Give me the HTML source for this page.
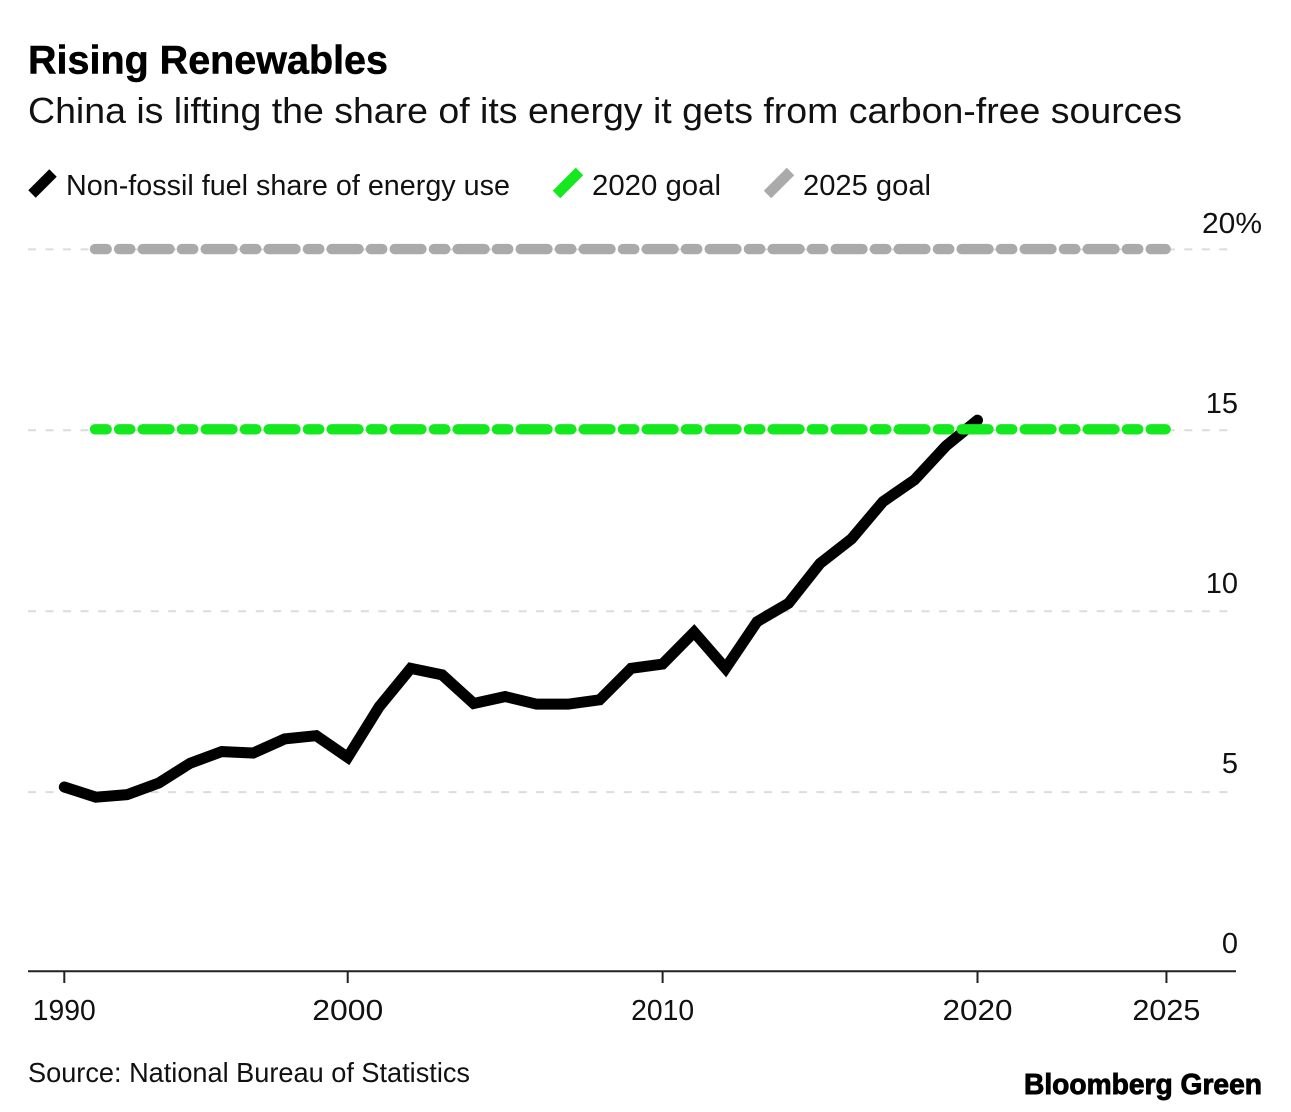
<!DOCTYPE html>
<html lang="en">
<head>
<meta charset="utf-8">
<title>Rising Renewables</title>
<style>
html,body{margin:0;padding:0;background:#fff;width:1291px;height:1112px;overflow:hidden}
svg{display:block}
text{font-family:"Liberation Sans",sans-serif;fill:#111}
</style>
</head>
<body>
<svg id="chart" xmlns="http://www.w3.org/2000/svg" width="1291" height="1112" viewBox="0 0 1291 1112">
  <text x="28" y="73.5" font-size="40" font-weight="700" textLength="360" lengthAdjust="spacingAndGlyphs" stroke="#000" stroke-width="0.5" style="fill:#000">Rising Renewables</text>
  <text x="28" y="123" font-size="36" textLength="1154" lengthAdjust="spacingAndGlyphs">China is lifting the share of its energy it gets from carbon-free sources</text>

  <g>
    <line x1="32" y1="194" x2="53" y2="173" stroke="#000" stroke-width="10.5"/>
    <text x="66" y="195" font-size="29" textLength="444" lengthAdjust="spacingAndGlyphs">Non-fossil fuel share of energy use</text>
    <line x1="556.5" y1="194.5" x2="579.5" y2="171.5" stroke="#14e81e" stroke-width="10.5"/>
    <text x="592" y="195" font-size="29" textLength="129" lengthAdjust="spacingAndGlyphs">2020 goal</text>
    <line x1="767.5" y1="194.5" x2="790.5" y2="171.5" stroke="#aaaaaa" stroke-width="10.5"/>
    <text x="803" y="195" font-size="29" textLength="128" lengthAdjust="spacingAndGlyphs">2025 goal</text>
  </g>

  <g id="grid"></g>
  <g id="yLabels"></g>
  <g id="xAxis"></g>
  <g id="series"></g>

  <text x="28" y="1082" font-size="27.5" textLength="442" lengthAdjust="spacingAndGlyphs">Source: National Bureau of Statistics</text>
  <text x="1024" y="1094" font-size="29" font-weight="700" textLength="238" lengthAdjust="spacingAndGlyphs" stroke="#000" stroke-width="0.9" style="fill:#000">Bloomberg Green</text>
</svg>
<script>
var categories = [1991,1992,1993,1994,1995,1996,1997,1998,1999,2000,2001,2002,2003,2004,2005,2006,2007,2008,2009,2010,2011,2012,2013,2014,2015,2016,2017,2018,2019,2020,2021,2022,2023,2024,2025,2026];
var nonFossilShare = [5.14,4.86,4.93,5.25,5.8,6.12,6.08,6.47,6.56,5.96,7.36,8.42,8.24,7.45,7.64,7.43,7.43,7.55,8.42,8.54,9.42,8.42,9.71,10.22,11.32,12.0,13.03,13.63,14.57,15.28];
var goal2020 = [15,15];
var goal2025 = [20,20];
var goalCategories = [1992,2026];
var yTicks = [0,5,10,15,20];
var yTickLabels = ["0","5","10","15","20%"];
var xTicks = [1991,2000,2010,2020,2026];
var xTickLabels = ["1990","2000","2010","2020","2025"];

var SVGNS = "http://www.w3.org/2000/svg";
function xScale(year){ return 64.3 + (year - categories[0]) * 31.49; }
function yScale(v){ return 973 - v * 36.18; }
function yLabelBaseline(v){ return 953 + (0 - v) * 36; }
function xLabelWidth(label){ return label === "2000" ? 71 : (label === "2020" ? 70 : (label === "2025" ? 68 : 63)); }
function make(tag, parent){
  var el = document.createElementNS(SVGNS, tag);
  parent.appendChild(el);
  return el;
}

var gridG = document.getElementById("grid");
yTicks.forEach(function(t, i){
  if (t === 0) return;
  var ln = make("line", gridG);
  
  
  ln.setAttribute("x1", 28); ln.setAttribute("x2", 1228);
  ln.setAttribute("y1", yScale(t)); ln.setAttribute("y2", yScale(t));
  ln.setAttribute("stroke", "#dcdcdc");
  ln.setAttribute("stroke-width", "2");
  ln.setAttribute("stroke-dasharray", "8 9.52");
});

var yG = document.getElementById("yLabels");
yTicks.forEach(function(t, i){
  var tx = make("text", yG);
  
  
  tx.setAttribute("x", t === 20 ? 1202 : 1238);
  tx.setAttribute("y", yLabelBaseline(t));
  tx.setAttribute("font-size", "29");
  if (t === 20) {
    tx.setAttribute("textLength", "60");
    tx.setAttribute("lengthAdjust", "spacingAndGlyphs");
  } else {
    tx.setAttribute("text-anchor", "end");
  }
  tx.textContent = yTickLabels[i];
});

var xG = document.getElementById("xAxis");
var axisLine = make("line", xG);


axisLine.setAttribute("x1", 28); axisLine.setAttribute("x2", 1236);
axisLine.setAttribute("y1", yScale(0) - 1.7); axisLine.setAttribute("y2", yScale(0) - 1.7);
axisLine.setAttribute("stroke", "#222"); axisLine.setAttribute("stroke-width", "2");
xTicks.forEach(function(t, i){
  var tk = make("line", xG);
  
  
  tk.setAttribute("x1", xScale(t)); tk.setAttribute("x2", xScale(t));
  tk.setAttribute("y1", yScale(0) - 1.7); tk.setAttribute("y2", yScale(0) + 10);
  tk.setAttribute("stroke", "#222"); tk.setAttribute("stroke-width", "2");
  var tx = make("text", xG);
  var w = xLabelWidth(xTickLabels[i]);
  
  
  tx.setAttribute("x", xScale(t) - w / 2); tx.setAttribute("y", 1020);
  tx.setAttribute("font-size", "28.5");
  tx.setAttribute("textLength", w);
  tx.setAttribute("lengthAdjust", "spacingAndGlyphs");
  tx.textContent = xTickLabels[i];
});

var seriesG = document.getElementById("series");
function goalDash(){
  var d = "11.7 12.4 11.2 12.4";
  for (var i = 0; i < 24; i++) d += " 26.8 12.4 11.4 12.4";
  return d + " 2000 0";
}
function pointsOf(xs, ys){
  return xs.map(function(c, i){ return xScale(c).toFixed(2) + "," + yScale(ys[i]).toFixed(2); }).join(" ");
}

var goalGray = make("polyline", seriesG);


goalGray.setAttribute("points", pointsOf(goalCategories, goal2025));
goalGray.setAttribute("transform", "translate(-0.8,-0.3)");
goalGray.setAttribute("fill", "none");
goalGray.setAttribute("stroke", "#aaaaaa");
goalGray.setAttribute("stroke-width", "10.4");
goalGray.setAttribute("stroke-linecap", "round");
goalGray.setAttribute("stroke-dasharray", goalDash());

var shareLine = make("polyline", seriesG);


shareLine.setAttribute("points", pointsOf(categories.slice(0, nonFossilShare.length), nonFossilShare));
shareLine.setAttribute("fill", "none");
shareLine.setAttribute("stroke", "#000");
shareLine.setAttribute("stroke-width", "11");
shareLine.setAttribute("stroke-linecap", "round");
shareLine.setAttribute("stroke-linejoin", "miter");

var goalGreen = make("polyline", seriesG);


goalGreen.setAttribute("points", pointsOf(goalCategories, goal2020));
goalGreen.setAttribute("transform", "translate(-0.8,-1)");
goalGreen.setAttribute("fill", "none");
goalGreen.setAttribute("stroke", "#14e81e");
goalGreen.setAttribute("stroke-width", "10.4");
goalGreen.setAttribute("stroke-linecap", "round");
goalGreen.setAttribute("stroke-dasharray", goalDash());
</script>
</body>
</html>
